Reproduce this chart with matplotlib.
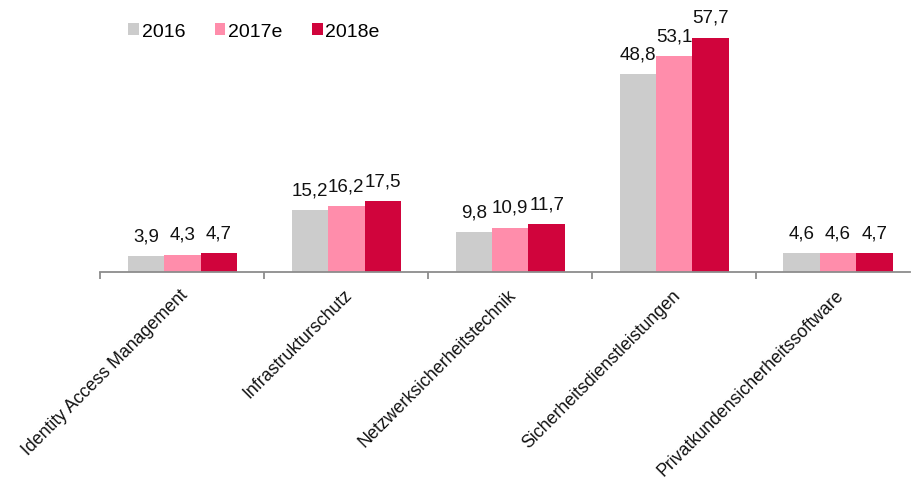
import matplotlib
matplotlib.use("Agg")
import matplotlib.pyplot as plt
from matplotlib.patches import Patch
import numpy as np

plt.rcParams['font.family'] = ['Liberation Sans', 'DejaVu Sans']

categories = ["Identity Access Management", "Infrastrukturschutz", "Netzwerksicherheitstechnik",
              "Sicherheitsdienstleistungen", "Privatkundensicherheitssoftware"]
series_names = ["2016", "2017e", "2018e"]
v2016 = [3.9, 15.2, 9.8, 48.8, 4.6]
v2017 = [4.3, 16.2, 10.9, 53.1, 4.6]
v2018 = [4.7, 17.5, 11.7, 57.7, 4.7]
colors = ["#cccccc", "#ff8dab", "#d0043c"]

fig = plt.figure(figsize=(9.12, 4.85), dpi=100)
ax = fig.add_axes([100.5 / 912, 1 - 273 / 485, 809.5 / 912, (273 - 29.4) / 485])

x = np.arange(len(categories))
w = 0.222
for i, (vals, c) in enumerate(zip([v2016, v2017, v2018], colors)):
    pos = x + (i - 1) * w
    ax.bar(pos, vals, width=w, color=c, edgecolor='none')
    for p, v in zip(pos, vals):
        ax.annotate(f"{v:.1f}".replace(".", ","), xy=(p, v), xytext=(0, 8.5),
                    textcoords='offset points', ha='center', va='bottom',
                    fontsize=13.5, color='#111111')

ax.set_xlim(-0.5, len(categories) - 0.5 - 10 / 164)
ax.set_ylim(0, 60)
for s in ['top', 'right', 'left']:
    ax.spines[s].set_visible(False)
ax.spines['bottom'].set_color('#8c8c8c')
ax.spines['bottom'].set_linewidth(1.3)
ax.set_yticks([])
ax.set_xticks(np.arange(len(categories)) - 0.5)
ax.set_xticklabels([])
ax.tick_params(axis='x', length=5, color='#8c8c8c', width=1.3, direction='out')
for xi, cat in zip(x, categories):
    ax.annotate(cat, xy=(xi, 0), xycoords=('data', 'axes fraction'), xytext=(-2, -10),
                textcoords='offset points', rotation=45, ha='right', va='top',
                rotation_mode='anchor', fontsize=12.8, color='#111111')

handles = [Patch(facecolor=c, edgecolor='none') for c in colors]
fig.legend(handles, series_names, loc='upper left', bbox_to_anchor=(0.128, 0.975), ncol=3,
           frameon=False, fontsize=14, handlelength=0.55, handleheight=0.55, handletextpad=0.15,
           columnspacing=1.5, borderaxespad=0.2)

fig.savefig("out.png", dpi=100)
